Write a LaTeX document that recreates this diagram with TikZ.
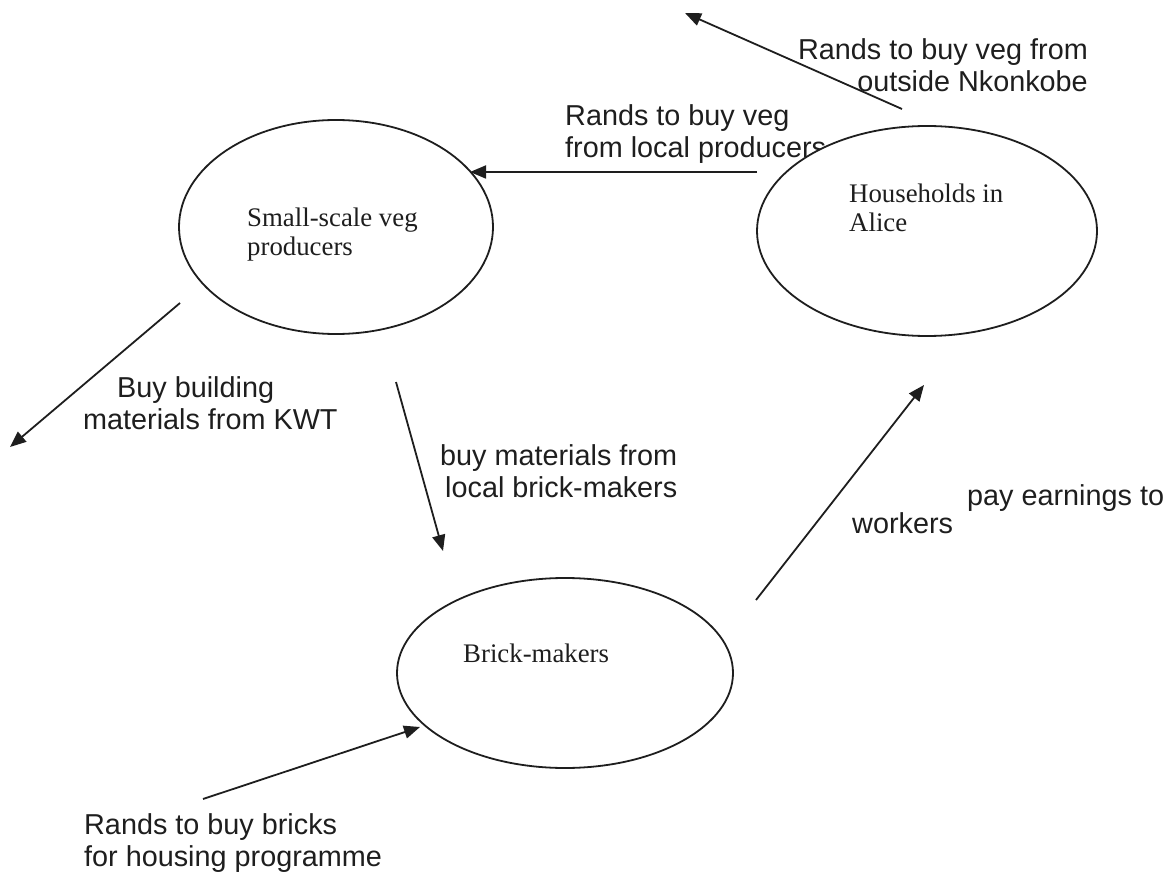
\documentclass[tikz,border=0pt]{standalone}
\usepackage{fontspec}
\setmainfont{Liberation Serif}
\setsansfont{Liberation Sans}
\usetikzlibrary{shapes.geometric,arrows.meta}
\definecolor{ink}{HTML}{1E1E1E}

\begin{document}
\begin{tikzpicture}[x=1pt,y=-1pt,
    sector/.style={draw=ink,line width=1.8pt,fill=white,ellipse,inner sep=0pt},
    flow/.style={draw=ink,line width=1.8pt,-{Triangle[length=16pt,width=13pt]}},
    lbl/.style={font=\sffamily\fontsize{28.8}{32}\selectfont,text=ink,inner sep=0pt},
    nm/.style={font=\fontsize{26.8}{29}\selectfont,text=ink,inner sep=0pt,align=left}]
        \useasboundingbox (0,0) rectangle (1170,874);

        % free ends of the flows
        \coordinate (outTail) at (902,109);
        \coordinate (outTip) at (685,13);
        \coordinate (hhW) at (757,172);
        \coordinate (vegE) at (470,172);
        \coordinate (kwtTail) at (180,303);
        \coordinate (kwtTip) at (10,447);
        \coordinate (vegS) at (396,382);
        \coordinate (brickN) at (443,551);
        \coordinate (brickNE) at (756,600);
        \coordinate (hhS) at (924,385);
        \coordinate (houseTail) at (203,799);
        \coordinate (brickW) at (420,727);

        % flow hidden partly behind the households
        \node[lbl,anchor=base west,align=left] (localTxt) at (565,158) {Rands to buy veg\\from local producers};
        \draw[flow] (hhW) -- (vegE);

        % sectors
        \node[sector,minimum width=314pt,minimum height=214pt] (veg) at (336,227) {};
        \node[sector,minimum width=340pt,minimum height=210pt] (hh) at (927,231) {};
        \node[sector,minimum width=336pt,minimum height=190pt] (brick) at (565,673) {};
        \node[nm,anchor=base west] (vegTxt) at (247,256) {Small-scale veg\\producers};
        \node[nm,anchor=base west] (hhTxt) at (849,232) {Households in\\Alice};
        \node[nm,anchor=base west] (brickTxt) at (463,662) {Brick-makers};

        % other flows
        \node[lbl,anchor=base east,align=right] (outTxt) at (1088,92) {Rands to buy veg from\\outside Nkonkobe};
        \draw[flow] (outTail) -- (outTip);
        \draw[flow] (kwtTail) -- (kwtTip);
        \node[lbl,anchor=base west,align=left] (kwtTxt) at (83,429) {\hspace*{34pt}Buy building\\materials from KWT};
        \draw[flow] (vegS) -- (brickN);
        \node[lbl,anchor=base west,align=left] (matTxt) at (440,497) {buy materials from\\\hspace*{5pt}local brick-makers};
        \draw[flow] (brickNE) -- (hhS);
        \node[lbl,anchor=base west] (payTxt) at (967,505) {pay earnings to};
        \node[lbl,anchor=base west] (workTxt) at (852,533) {workers};
        \draw[flow] (houseTail) -- (brickW);
        \node[lbl,anchor=base west,align=left] (houseTxt) at (84,866) {Rands to buy bricks\\for housing programme};
    \end{tikzpicture}
\end{document}
